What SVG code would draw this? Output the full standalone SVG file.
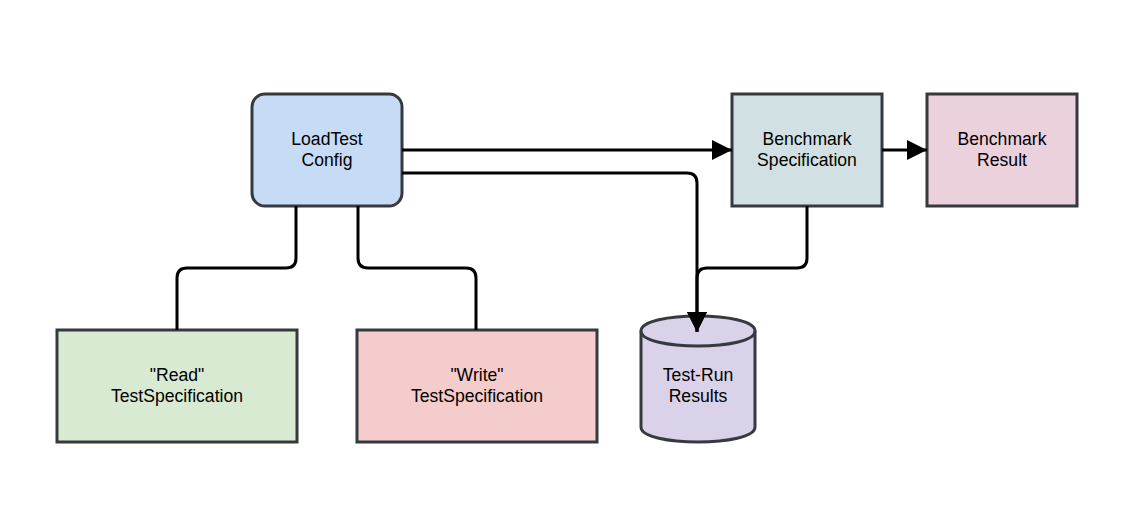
<svg xmlns="http://www.w3.org/2000/svg" width="1129" height="505" viewBox="0 0 1129 505">
  <style>
    .node { stroke: #36393d; stroke-width: 3; }
    .lbl { font-family: "Liberation Sans", Arial, sans-serif; font-size: 17.6px; fill: #000; text-anchor: middle; }
    .edge { fill: none; stroke: #000; stroke-width: 3; stroke-linejoin: round; }
  </style>
  <defs>
    <marker id="arrow" markerUnits="userSpaceOnUse" markerWidth="20" markerHeight="20" refX="20" refY="10" orient="auto">
      <path d="M0,0 L20,10 L0,20 Z" fill="#000"/>
    </marker>
  </defs>
  <rect width="1129" height="505" fill="#fff"/>

  <g id="loadtest-config">
    <rect class="node" x="252" y="94" width="150" height="112" rx="13" ry="13" fill="#c6dbf6"/>
    <text class="lbl" x="327" y="145">LoadTest</text>
    <text class="lbl" x="327" y="166">Config</text>
  </g>

  <g id="benchmark-specification">
    <rect class="node" x="732" y="94" width="150" height="112" fill="#d0e0e3"/>
    <text class="lbl" x="807" y="145">Benchmark</text>
    <text class="lbl" x="807" y="166">Specification</text>
  </g>

  <g id="benchmark-result">
    <rect class="node" x="927" y="94" width="150" height="112" fill="#ead1dc"/>
    <text class="lbl" x="1002" y="145">Benchmark</text>
    <text class="lbl" x="1002" y="166">Result</text>
  </g>

  <g id="read-testspecification">
    <rect class="node" x="57" y="330" width="240" height="112" fill="#d9ead3"/>
    <text class="lbl" x="177" y="381">"Read"</text>
    <text class="lbl" x="177" y="402">TestSpecification</text>
  </g>

  <g id="write-testspecification">
    <rect class="node" x="357" y="330" width="240" height="112" fill="#f4cccc"/>
    <text class="lbl" x="477" y="381">"Write"</text>
    <text class="lbl" x="477" y="402">TestSpecification</text>
  </g>

  <g id="test-run-results">
    <path class="node" fill="#d9d2e9" d="M641,331 C641,311 755,311 755,331 V427 C755,447 641,447 641,427 Z"/>
    <path class="node" fill="none" d="M641,331 C641,351 755,351 755,331"/>
    <text class="lbl" x="698" y="381">Test-Run</text>
    <text class="lbl" x="698" y="402">Results</text>
  </g>

  <g id="connectors">
    <path class="edge" d="M402,150 H732" marker-end="url(#arrow)"/>
    <path class="edge" d="M402,173 H687 Q697,173 697,183 V332" marker-end="url(#arrow)"/>
    <path class="edge" d="M807,206 V258 Q807,268 797,268 H707 Q697,268 697,278 V332" marker-end="url(#arrow)"/>
    <path class="edge" d="M882,150 H927" marker-end="url(#arrow)"/>
    <path class="edge" d="M296,206 V258 Q296,268 286,268 H187 Q177,268 177,278 V330"/>
    <path class="edge" d="M358,206 V258 Q358,268 368,268 H466 Q476,268 476,278 V330"/>
  </g>
</svg>
